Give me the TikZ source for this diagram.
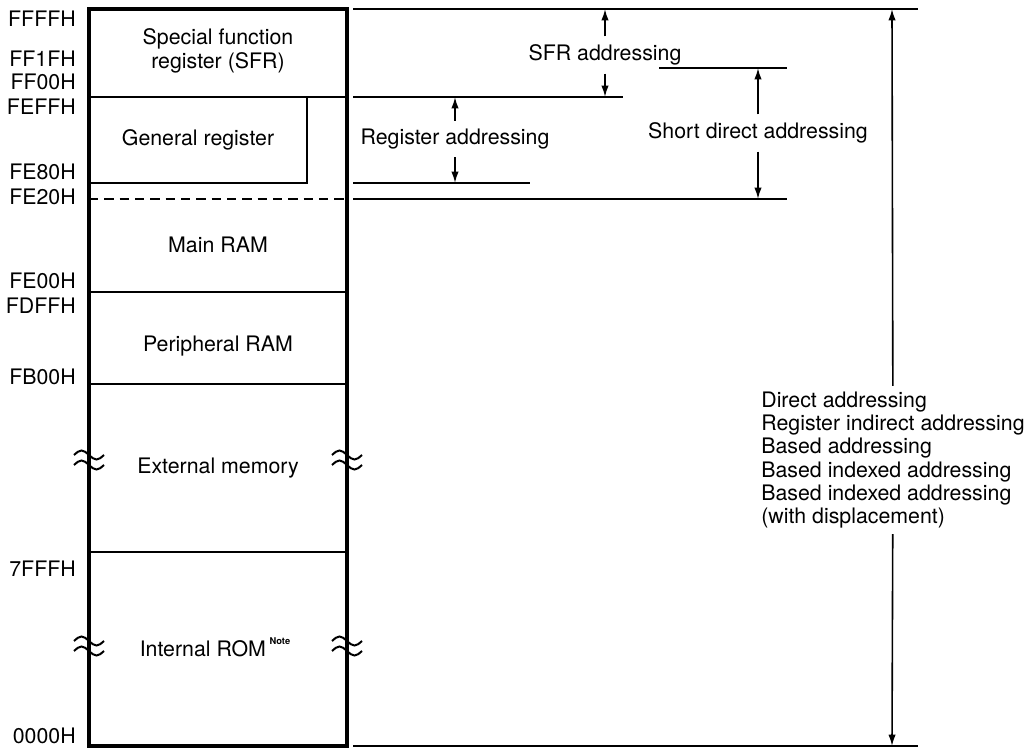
\documentclass[tikz,border=0pt]{standalone}
\usepackage{fontspec}
\setmainfont{TeX Gyre Heros}
\usetikzlibrary{positioning,arrows.meta}

\begin{document}
\begin{tikzpicture}[x=0.75pt, y=-0.75pt, >={Latex[length=8.5pt,width=5.5pt]},
  every node/.style={font=\fontsize{16}{17.5}\selectfont, inner sep=0pt},
  addr/.style={anchor=east},
  area/.style={align=center},
  mode/.style={inner xsep=2pt, inner ysep=6pt},
  frame/.style={line width=2.4pt},
  part/.style={line width=1.2pt},
  level/.style={line width=1.5pt},
  span/.style={line width=1.2pt},
  brk/.style={line width=1.5pt}]

\useasboundingbox (0,0) rectangle (1029,748);

% memory map
\draw[frame] (89,9) rectangle (347,746);
\draw[part] (89,97) -- (347,97);
\draw[part] (89,183) -- (307,183) -- (307,97);
\draw[part, dash pattern=on 7pt off 4.5pt] (89,199) -- (347,199);
\draw[part] (89,292) -- (347,292);
\draw[part] (89,384) -- (347,384);
\draw[part] (89,552) -- (347,552);

% break marks
\foreach \bx in {89,347}
  \foreach \by in {455,465,641,651}
    \draw[brk] (\bx-15,\by) sin (\bx-7.5,\by-4.5) cos (\bx,\by) sin (\bx+7.5,\by+4.5) cos (\bx+15,\by);

% addresses
\node[addr] (ffff) at (76,19) {FFFFH};
\node[addr] (ff1f) at (76,59) {FF1FH};
\node[addr] (ff00) at (76,82) {FF00H};
\node[addr] (feff) at (76,107) {FEFFH};
\node[addr] (fe80) at (76,172) {FE80H};
\node[addr] (fe20) at (76,197) {FE20H};
\node[addr] (fe00) at (76,281) {FE00H};
\node[addr] (fdff) at (76,306) {FDFFH};
\node[addr] (fb00) at (76,377) {FB00H};
\node[addr] (7fff) at (76,569) {7FFFH};
\node[addr] (0000) at (76,736) {0000H};

% areas
\node[area] (sfrarea) at (218,51) {Special function\\register (SFR)};
\node (genreg) at (198,140) {General register};
\node (mainram) at (218,245) {Main RAM};
\node (periram) at (218,346) {Peripheral RAM};
\node (extmem) at (218,468) {External memory};
\node (introm) at (215,647) {Internal ROM\,\raisebox{0.55em}{\fontsize{7}{7}\selectfont\bfseries Note}};

% ranges
\draw[level] (353,9) -- (918,9);
\draw[level] (353,97) -- (623,97);
\draw[level] (353,183) -- (530,183);
\draw[level] (659,68) -- (787,68);
\draw[level] (353,199) -- (787,199);
\draw[level] (353,746) -- (918,746);

\coordinate (sfrtop) at (605,9);
\coordinate (sfrbot) at (605,97);
\coordinate (regtop) at (455,97);
\coordinate (regbot) at (455,183);
\coordinate (shorttop) at (758,68);
\coordinate (shortbot) at (758,199);
\coordinate (alltop) at (892,9);
\coordinate (allbot) at (892,746);

\node[mode] (sfr) at (605,55) {SFR addressing};
\node[mode] (reg) at (455,139) {Register addressing};
\node[mode] (short) at (758,133) {Short direct addressing};
\node[align=left, inner ysep=4pt] (all) at (893,460) {Direct addressing\\Register indirect addressing\\Based addressing\\Based indexed addressing\\Based indexed addressing\\(with displacement)};

\path[span, ->]
    (sfr) edge (sfrtop)
    (sfr) edge (sfrbot)
    (reg) edge (regtop)
    (reg) edge (regbot)
    (short) edge (shorttop)
    (short) edge (shortbot)
    (all) edge (alltop)
    (all) edge (allbot);
\end{tikzpicture}
\end{document}
